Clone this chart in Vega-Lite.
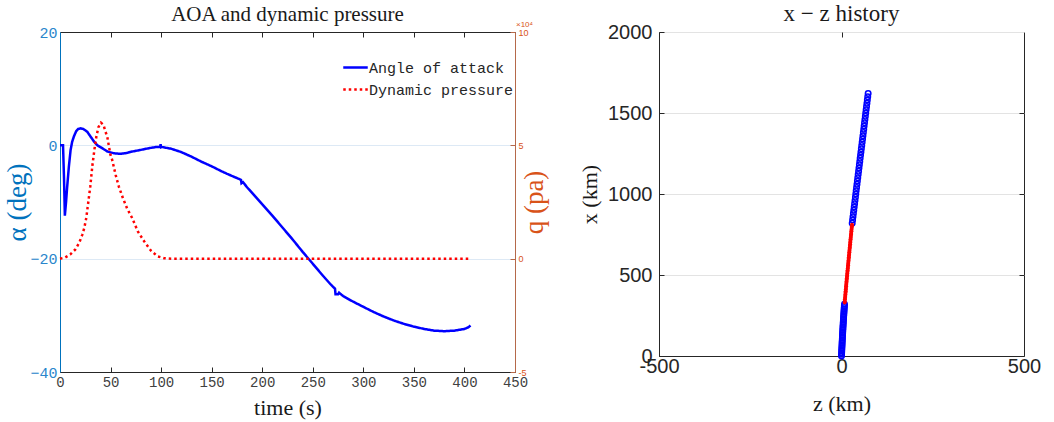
{
  "$schema": "https://vega.github.io/schema/vega-lite/v6.json",
  "padding": {"left": 3, "top": 2, "right": 5, "bottom": 3},
  "background": "white",
  "config": {"view": {"stroke": null}, "concat": {"spacing": 30}},
  "datasets": {
    "aoa": [
      {"t":0,"alpha":0},{"t":3,"alpha":0},{"t":4,"alpha":-6},{"t":4.8,"alpha":-12.4},{"t":6,"alpha":-10},
      {"t":7.1,"alpha":-7.3},{"t":8.8,"alpha":-3.7},{"t":10.5,"alpha":-0.8},{"t":12,"alpha":0.6},{"t":13.7,"alpha":1.55},
      {"t":16,"alpha":2.5},{"t":18,"alpha":2.9},{"t":20.4,"alpha":3.0},{"t":23,"alpha":2.9},{"t":26.9,"alpha":2.4},
      {"t":30,"alpha":1.6},{"t":33.5,"alpha":0.7},{"t":37,"alpha":0},{"t":41.7,"alpha":-0.5},{"t":47,"alpha":-1.1},
      {"t":53.3,"alpha":-1.4},{"t":60,"alpha":-1.5},{"t":66,"alpha":-1.35},{"t":71.4,"alpha":-1.1},{"t":80,"alpha":-0.8},
      {"t":88,"alpha":-0.5},{"t":95,"alpha":-0.3},{"t":99,"alpha":-0.3},{"t":99.5,"alpha":0.2},{"t":100,"alpha":-0.35},
      {"t":101,"alpha":-0.3},{"t":110,"alpha":-0.6},{"t":120,"alpha":-1.2},{"t":130,"alpha":-2.0},{"t":140,"alpha":-2.9},
      {"t":150,"alpha":-3.7},{"t":160,"alpha":-4.6},{"t":170,"alpha":-5.4},{"t":178,"alpha":-6.0},{"t":179,"alpha":-6.1},
      {"t":179.5,"alpha":-6.7},{"t":181,"alpha":-6.5},{"t":185,"alpha":-7.4},{"t":190,"alpha":-8.4},{"t":200,"alpha":-10.4},
      {"t":210,"alpha":-12.4},{"t":220,"alpha":-14.5},{"t":230,"alpha":-16.6},{"t":240,"alpha":-18.8},{"t":250,"alpha":-20.9},
      {"t":260,"alpha":-23.0},{"t":268,"alpha":-24.6},{"t":272,"alpha":-25.3},{"t":272.5,"alpha":-26.3},{"t":275,"alpha":-26.3},
      {"t":276,"alpha":-26.0},{"t":280,"alpha":-26.6},{"t":290,"alpha":-27.6},{"t":300,"alpha":-28.5},{"t":310,"alpha":-29.4},
      {"t":320,"alpha":-30.2},{"t":330,"alpha":-30.9},{"t":340,"alpha":-31.5},{"t":350,"alpha":-32.0},{"t":360,"alpha":-32.4},
      {"t":370,"alpha":-32.7},{"t":380,"alpha":-32.8},{"t":390,"alpha":-32.7},{"t":400,"alpha":-32.4},{"t":404,"alpha":-32.1},
      {"t":406,"alpha":-31.8}
    ],
    "qdata": [
      {"t":0,"q":0},{"t":5,"q":0.05},{"t":10,"q":0.18},{"t":15,"q":0.4},{"t":19,"q":0.7},{"t":22,"q":1.05},
      {"t":24,"q":1.35},{"t":26,"q":1.8},{"t":28,"q":2.5},{"t":30,"q":3.2},{"t":32,"q":4.1},{"t":34,"q":4.8},
      {"t":36,"q":5.4},{"t":38,"q":5.8},{"t":40.5,"q":6.0},{"t":43,"q":5.9},{"t":45,"q":5.6},{"t":46.7,"q":5.39},
      {"t":49.8,"q":4.6},{"t":51.6,"q":4.36},{"t":55,"q":3.7},{"t":58.2,"q":3.18},{"t":62,"q":2.7},{"t":66.5,"q":2.2},
      {"t":71.4,"q":1.79},{"t":77,"q":1.2},{"t":83.2,"q":0.77},{"t":90,"q":0.35},{"t":96.6,"q":0.1},{"t":103,"q":0.02},
      {"t":110,"q":0},{"t":405,"q":0}
    ],
    "note": [{"label":"×10⁴"}],
    "trajBlue": [
      {"z":0,"x":0},{"z":0.2,"x":10},{"z":0.4,"x":20},{"z":0.6,"x":30},{"z":0.8,"x":40},{"z":1.0,"x":50},
      {"z":1.3,"x":60},{"z":1.5,"x":70},{"z":1.7,"x":80},{"z":1.9,"x":90},{"z":2.2,"x":100},{"z":2.4,"x":110},
      {"z":2.6,"x":120},{"z":2.9,"x":130},{"z":3.1,"x":140},{"z":3.4,"x":150},{"z":3.6,"x":160},{"z":3.9,"x":170},
      {"z":4.1,"x":180},{"z":4.4,"x":190},{"z":4.7,"x":200},{"z":4.9,"x":210},{"z":5.2,"x":220},{"z":5.5,"x":230},
      {"z":5.8,"x":240},{"z":6.1,"x":250},{"z":6.4,"x":260},{"z":6.7,"x":270},{"z":7.0,"x":280},{"z":7.3,"x":290},
      {"z":7.6,"x":300},{"z":7.9,"x":310},{"z":8.2,"x":320},
      {"z":29.3,"x":820},{"z":30.4,"x":840},{"z":31.5,"x":860},{"z":32.6,"x":880},{"z":33.7,"x":900},{"z":34.8,"x":920},
      {"z":35.9,"x":940},{"z":37.0,"x":960},{"z":38.1,"x":980},{"z":39.2,"x":1000},{"z":40.2,"x":1020},{"z":41.3,"x":1040},
      {"z":42.4,"x":1060},{"z":43.5,"x":1080},{"z":44.6,"x":1100},{"z":45.7,"x":1120},{"z":46.8,"x":1140},{"z":47.9,"x":1160},
      {"z":49.0,"x":1180},{"z":50.1,"x":1200},{"z":51.1,"x":1220},{"z":52.2,"x":1240},{"z":53.3,"x":1260},{"z":54.4,"x":1280},
      {"z":55.5,"x":1300},{"z":56.6,"x":1320},{"z":57.7,"x":1340},{"z":58.8,"x":1360},{"z":59.9,"x":1380},{"z":61.0,"x":1400},
      {"z":62.0,"x":1420},{"z":63.1,"x":1440},{"z":64.2,"x":1460},{"z":65.3,"x":1480},{"z":66.4,"x":1500},{"z":67.5,"x":1520},
      {"z":68.6,"x":1540},{"z":69.7,"x":1560},{"z":70.8,"x":1580},{"z":71.9,"x":1600},{"z":73.0,"x":1620}
    ],
    "trajRed": [
      {"z":8.6,"x":330},{"z":9.0,"x":340},{"z":9.4,"x":350},{"z":9.8,"x":360},{"z":10.2,"x":370},{"z":10.6,"x":380},
      {"z":11.0,"x":390},{"z":11.4,"x":400},{"z":11.8,"x":410},{"z":12.2,"x":420},{"z":12.6,"x":430},{"z":13.0,"x":440},
      {"z":13.4,"x":450},{"z":13.8,"x":460},{"z":14.2,"x":470},{"z":14.7,"x":480},{"z":15.1,"x":490},{"z":15.5,"x":500},
      {"z":15.9,"x":510},{"z":16.3,"x":520},{"z":16.7,"x":530},{"z":17.2,"x":540},{"z":17.6,"x":550},{"z":18.0,"x":560},
      {"z":18.4,"x":570},{"z":18.8,"x":580},{"z":19.3,"x":590},{"z":19.7,"x":600},{"z":20.1,"x":610},{"z":20.5,"x":620},
      {"z":21.0,"x":630},{"z":21.4,"x":640},{"z":21.8,"x":650},{"z":22.2,"x":660},{"z":22.7,"x":670},{"z":23.1,"x":680},
      {"z":23.5,"x":690},{"z":24.0,"x":700},{"z":24.4,"x":710},{"z":24.8,"x":720},{"z":25.3,"x":730},{"z":25.7,"x":740},
      {"z":26.1,"x":750},{"z":26.6,"x":760},{"z":27.0,"x":770},{"z":27.4,"x":780},{"z":27.9,"x":790},{"z":28.3,"x":800},
      {"z":28.8,"x":810}
    ]
  },
  "hconcat": [
    {
      "width": 455,
      "height": 340,
      "view": {"stroke": "#262626", "strokeWidth": 1},
      "title": {"text": "AOA and dynamic pressure", "font": "Liberation Serif", "fontSize": 21, "fontWeight": "normal", "color": "#1a1a1a", "offset": -4, "frame": "group"},
      "layer": [
        {
          "data": {"name": "aoa"},
          "mark": {"type": "line", "strokeWidth": 2.5},
          "encoding": {
            "x": {"field": "t", "type": "quantitative", "scale": {"domain": [0, 450], "nice": false},
              "axis": {"orient": "bottom", "values": [0,50,100,150,200,250,300,350,400,450], "title": "time (s)",
                "titleFont": "Liberation Serif", "titleFontSize": 22, "titleFontWeight": "normal", "titleColor": "#1a1a1a", "titlePadding": 8,
                "labelFont": "Liberation Mono", "labelFontSize": 14, "labelColor": "#404040", "labelPadding": 8, "labelFlush": false,
                "tickSize": -5, "tickColor": "#262626", "domainColor": "#262626", "grid": false}},
            "y": {"field": "alpha", "type": "quantitative", "scale": {"domain": [-40, 20], "nice": false},
              "axis": {"orient": "left", "values": [-40,-20,0,20], "title": "α (deg)",
                "titleFont": "Liberation Serif", "titleFontSize": 27, "titleFontWeight": "normal", "titleColor": "#0072BD", "titlePadding": -2,
                "labelFont": "Liberation Mono", "labelFontSize": 15, "labelColor": "#2a86cc", "labelPadding": 3, "ticks": false,
                "domainColor": "#0072BD", "grid": true, "gridColor": "#dde9f5", "gridWidth": 1}},
            "color": {"datum": "Angle of attack", "type": "nominal",
              "scale": {"domain": ["Angle of attack", "Dynamic pressure"], "range": ["#0000FF", "#FF0000"]},
              "legend": {"orient": "none", "legendX": 282, "legendY": 22, "title": null, "labelFont": "Liberation Mono", "labelFontSize": 15,
                "labelColor": "#262626", "symbolType": "stroke", "symbolSize": 600, "symbolStrokeWidth": 2.5, "rowPadding": -6, "labelOffset": 0}},
            "strokeDash": {"datum": "Angle of attack", "type": "nominal",
              "scale": {"domain": ["Angle of attack", "Dynamic pressure"], "range": [[1, 0], [2.5, 3]]},
              "legend": {"orient": "none", "legendX": 282, "legendY": 22, "title": null, "labelFont": "Liberation Mono", "labelFontSize": 15,
                "labelColor": "#262626", "symbolType": "stroke", "symbolSize": 600, "symbolStrokeWidth": 2.5, "rowPadding": -6, "labelOffset": 0}}
          }
        },
        {
          "data": {"name": "qdata"},
          "mark": {"type": "line", "strokeWidth": 2.5, "strokeCap": "butt"},
          "encoding": {
            "x": {"field": "t", "type": "quantitative",
              "axis": {"orient": "top", "values": [50,100,150,200,250,300,350,400], "labels": false, "title": null,
                "tickSize": -5, "tickColor": "#262626", "domainColor": "#262626", "grid": false}},
            "y": {"field": "q", "type": "quantitative", "scale": {"domain": [-5, 10], "nice": false},
              "axis": {"orient": "right", "values": [-5,0,5,10], "title": "q (pa)", "titleAngle": 270, "labelExpr": "replace(datum.label, '−', '-')",
                "titleFont": "Liberation Serif", "titleFontSize": 27, "titleFontWeight": "normal", "titleColor": "#D95319", "titlePadding": 20,
                "labelFont": "Liberation Sans", "labelFontSize": 9, "labelColor": "#D95319", "labelPadding": 8,
                "tickSize": -5, "tickColor": "#b5694a", "domainColor": "#b5694a", "grid": false}},
            "color": {"datum": "Dynamic pressure", "type": "nominal"},
            "strokeDash": {"datum": "Dynamic pressure", "type": "nominal"}
          }
        },
        {
          "data": {"name": "note"},
          "mark": {"type": "text", "align": "left", "baseline": "alphabetic", "dx": 1, "dy": -5, "fontSize": 8, "font": "Liberation Sans", "color": "#D95319"},
          "encoding": {
            "x": {"datum": 450, "type": "quantitative", "axis": null},
            "y": {"datum": 10, "type": "quantitative", "scale": {"domain": [-5, 10], "nice": false}, "axis": null},
            "text": {"field": "label"}
          }
        }
      ],
      "resolve": {"scale": {"y": "independent"}, "axis": {"x": "independent", "y": "independent"}}
    },
    {
      "width": 365,
      "height": 324,
      "view": {"stroke": "#262626", "strokeWidth": 1},
      "title": {"text": "x − z history", "font": "Liberation Serif", "fontSize": 23, "fontWeight": "normal", "color": "#1a1a1a", "offset": -4, "frame": "group"},
      "layer": [
        {
          "data": {"name": "trajBlue"},
          "mark": {"type": "point", "shape": "circle", "filled": false, "color": "#0000FF", "strokeWidth": 1.5, "size": 30, "opacity": 1},
          "encoding": {
            "x": {"field": "z", "type": "quantitative", "scale": {"domain": [-500, 500], "nice": false},
              "axis": {"orient": "bottom", "values": [-500, 0, 500], "title": "z (km)", "labelExpr": "replace(datum.label, '−', '-')",
                "titleFont": "Liberation Serif", "titleFontSize": 22, "titleFontWeight": "normal", "titleColor": "#1a1a1a", "titlePadding": 17,
                "labelFont": "Liberation Sans", "labelFontSize": 20, "labelColor": "#262626", "labelPadding": 5, "labelFlush": false,
                "tickSize": -5, "tickColor": "#262626", "domainColor": "#262626", "grid": false}},
            "y": {"field": "x", "type": "quantitative", "scale": {"domain": [0, 2000], "nice": false},
              "axis": {"orient": "left", "values": [0, 500, 1000, 1500, 2000], "format": "d", "title": "x (km)",
                "titleFont": "Liberation Serif", "titleFontSize": 22, "titleFontWeight": "normal", "titleColor": "#1a1a1a", "titlePadding": 6,
                "labelFont": "Liberation Sans", "labelFontSize": 20, "labelColor": "#262626", "labelPadding": 12,
                "tickSize": -5, "tickColor": "#262626", "domainColor": "#262626", "grid": true, "gridColor": "#e3e3e3"}}
          }
        },
        {
          "data": {"name": "trajRed"},
          "mark": {"type": "point", "shape": "circle", "filled": true, "color": "#FF0000", "size": 16, "opacity": 1},
          "encoding": {
            "x": {"field": "z", "type": "quantitative",
              "axis": {"orient": "top", "values": [0], "labels": false, "title": null, "tickSize": -5, "tickColor": "#262626", "domain": false, "grid": false}},
            "y": {"field": "x", "type": "quantitative",
              "axis": {"orient": "right", "values": [500, 1000, 1500], "labels": false, "title": null, "tickSize": -5, "tickColor": "#262626", "domain": false, "grid": false}}
          }
        }
      ],
      "resolve": {"axis": {"x": "independent", "y": "independent"}}
    }
  ]
}
